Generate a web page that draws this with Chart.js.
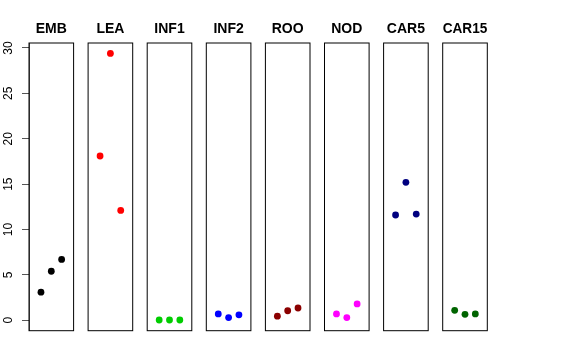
<!DOCTYPE html>
<html>
<head>
<meta charset="utf-8">
<script src="https://cdn.jsdelivr.net/npm/chart.js@4/dist/chart.umd.min.js"></script>
<style>
  html, body { margin: 0; padding: 0; background: #fff; }
  #wrap { position: relative; width: 576px; height: 360px; }
  #wrap canvas { position: absolute; left: 0; top: 0; }
</style>
</head>
<body>
<div id="wrap"></div>
<script>
// one strip per tissue, 3 replicates each
const panels = ['EMB', 'LEA', 'INF1', 'INF2', 'ROO', 'NOD', 'CAR5', 'CAR15'];
const reps = [1, 2, 3];
const emb = [3.1, 5.4, 6.7];
const lea = [18.1, 29.4, 12.1];
const inf1 = [0.03, 0.03, 0.03];
const inf2 = [0.7, 0.3, 0.6];
const roo = [0.45, 1.05, 1.35];
const nod = [0.7, 0.3, 1.8];
const car5 = [11.6, 15.2, 11.7];
const car15 = [1.1, 0.65, 0.7];
const values = [emb, lea, inf1, inf2, roo, nod, car5, car15];
const colors = ['#000000', '#FF0000', '#00CD00', '#0000FF', '#8B0000', '#FF00FF', '#000080', '#006400'];
const yTicks = [0, 5, 10, 15, 20, 25, 30];

const W = 576, H = 360;
const boxLeft = 29, boxPitch = 59.1, boxWidth = 44.6;

// box round each strip + rotated y labels on the first one
const framePlugin = {
  id: 'frame',
  afterDatasetsDraw(chart) {
    const {ctx, chartArea: a} = chart;
    ctx.save();
    ctx.strokeStyle = '#000';
    ctx.lineWidth = 1;
    ctx.strokeRect(a.left, a.top, a.right - a.left, a.bottom - a.top);
    ctx.restore();
  },
  afterDraw(chart) {
    if (!chart.options.scales.y.display) return;
    const {ctx} = chart, y = chart.scales.y;
    ctx.save();
    ctx.fillStyle = '#000';
    ctx.font = '12px "Liberation Sans", Arial, sans-serif';
    ctx.textAlign = 'center';
    ctx.textBaseline = 'middle';
    yTicks.forEach(v => {
      ctx.save();
      ctx.translate(8.5, y.getPixelForValue(v));
      ctx.rotate(-Math.PI / 2);
      ctx.fillText(String(v), 0, 0);
      ctx.restore();
    });
    ctx.restore();
  }
};

const wrap = document.getElementById('wrap');

panels.forEach((name, i) => {
  const cv = document.createElement('canvas');
  cv.width = W; cv.height = H;
  wrap.appendChild(cv);
  const left = boxLeft + boxPitch * i;
  const first = i === 0;

  const yScale = {
    type: 'linear',
    display: first,
    position: 'left',
    min: -1.15,
    max: 30.55,
    afterBuildTicks: s => { s.ticks = yTicks.map(v => ({value: v})); },
    ticks: { display: false },
    grid: { drawOnChartArea: false, drawTicks: true, tickLength: 7, color: '#555', lineWidth: 1 },
    border: { display: true, color: '#555' }
  };
  if (first) yScale.afterFit = s => { s.width = left; };

  new Chart(cv, {
    type: 'scatter',
    data: {
      datasets: [{
        data: reps.map((r, k) => ({x: r, y: values[i][k]})),
        backgroundColor: colors[i],
        borderWidth: 0,
        pointRadius: 3.4,
        pointHoverRadius: 3.4
      }]
    },
    options: {
      responsive: false,
      animation: false,
      events: [],
      layout: {
        padding: {
          left: first ? 0 : left,
          right: W - (left + boxWidth),
          top: 20.6,
          bottom: 29.3
        }
      },
      plugins: {
        legend: { display: false },
        tooltip: { enabled: false },
        title: {
          display: true,
          text: name,
          fullSize: false,
          color: '#000',
          font: { family: '"Liberation Sans", Arial, sans-serif', size: 14, weight: 'bold', lineHeight: 1.2 },
          padding: { top: 0, bottom: 5.6 }
        }
      },
      scales: {
        x: { type: 'linear', display: false, min: -0.16, max: 4.16 },
        y: yScale
      }
    },
    plugins: [framePlugin]
  });
});
</script>
</body>
</html>
